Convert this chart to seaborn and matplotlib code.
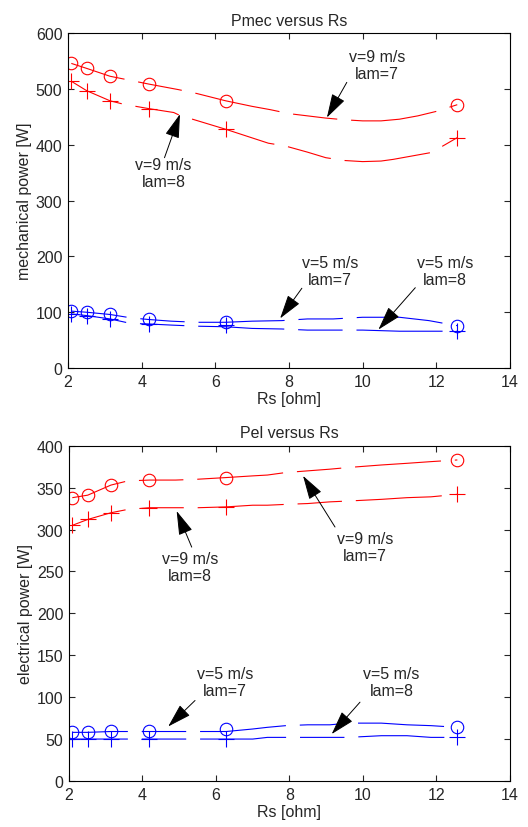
import numpy as np
import pandas as pd
import seaborn as sns
import matplotlib.pyplot as plt

# marker positions (Rs values)
rs = [2.09, 2.51, 3.14, 4.19, 6.28, 12.57]

# mechanical power at the markers
pmec_v9_l7 = [546, 537, 523, 509, 479, 472]
pmec_v9_l8 = [514, 497, 479, 465, 428, 413]
pmec_v5_l7 = [102, 100, 96, 87, 82, 76]
pmec_v5_l8 = [97, 93, 88, 79, 77, 66]

# electrical power at the markers
pel_v9_l7 = [338, 341, 353, 359, 362, 383]
pel_v9_l8 = [305, 312, 320, 326, 327, 342]
pel_v5_l7 = [58, 58, 60, 60, 62, 64]
pel_v5_l8 = [50, 50, 50, 50, 50, 52]

# curves
cx_a = [2.09, 2.51, 3.14, 4.19, 5.0, 5.5, 6.28, 7.0, 7.5, 8.0, 8.5, 9.0, 9.5, 10.0, 10.5, 11.0, 11.5, 12.0, 12.57]
pmec_v9_l7_c = [546, 537, 523, 509, 499, 492, 479, 469, 463, 456, 452, 448, 445, 443, 443, 446, 452, 460, 472]

cx_b = [2.09, 2.51, 3.14, 3.5, 4.19, 4.87, 5.03, 6.28, 7.44, 7.9, 8.5, 9.0, 9.5, 10.0, 10.5, 10.83, 11.84, 12.1, 12.57]
pmec_v9_l8_c = [514, 497, 479, 473, 465, 458, 453, 428, 403, 398, 387, 377, 372, 370, 371, 374, 386, 395, 413]

cx_c = [2.09, 2.51, 3.14, 3.7, 4.19, 4.8, 5.5, 6.28, 7.0, 7.8, 8.5, 9.2, 10.0, 11.0, 11.8, 12.3, 12.57]
pmec_v5_l7_c = [102, 100, 96, 90, 87, 84, 82, 82, 84, 85, 88, 88, 91, 91, 85, 79, 76]
pmec_v5_l8_c = [97, 94, 88, 80, 79, 77, 75, 74, 71, 70, 68, 68, 68, 66, 66, 66, 66]

cx_d = [2.09, 2.51, 3.14, 3.6, 4.19, 4.9, 5.5, 6.28, 7.0, 7.4, 7.9, 8.5, 9.1, 9.6, 10.5, 11.2, 11.85, 12.57]
pel_v9_l7_c = [338, 341, 353, 358, 359, 359, 360, 362, 364, 365, 368, 370, 372, 374, 377, 379, 381, 383]
pel_v9_l8_c = [305, 312, 320, 324, 326, 326, 326, 327, 329, 329, 330, 331, 333, 334, 336, 338, 339, 342]
pel_v5_l7_c = [58, 58, 59, 59, 59, 59, 59, 59, 62, 64, 66, 67, 67, 69, 69, 67, 66, 64]
pel_v5_l8_c = [50, 50, 50, 50, 50, 50, 50, 50, 50, 52, 52, 52, 52, 52, 54, 54, 52, 52]

sns.set_style('ticks')
plt.rcParams['font.family'] = ['Liberation Sans', 'DejaVu Sans']
plt.rcParams['lines.scale_dashes'] = False

fs = 11.5
dash = (22, (62, 10, 32, 10))

fig = plt.figure(figsize=(5.28, 8.28), dpi=100)
ax1 = fig.add_axes([0.1288, 0.5543, 0.837, 0.4043])
ax2 = fig.add_axes([0.1307, 0.0556, 0.835, 0.4049])


def draw(ax, cx, cy, mx, my, color, marker, ms):
    sns.lineplot(x=cx, y=cy, ax=ax, color=color, lw=0.8, linestyle=dash,
                 sort=False, estimator=None)
    ax.plot(mx, my, linestyle='none', marker=marker, markersize=ms,
            markerfacecolor='none', markeredgecolor=color, markeredgewidth=0.8)


def note(ax, text, txy, axy, hxy):
    ax.text(txy[0], txy[1], text, ha='center', va='center', fontsize=fs,
            linespacing=1.2)
    ax.annotate('', xy=hxy, xytext=axy,
                arrowprops=dict(arrowstyle='-|>,head_length=1.0,head_width=0.3',
                                color='k', lw=0.7, mutation_scale=15,
                                shrinkA=0, shrinkB=0))


draw(ax1, cx_a, pmec_v9_l7_c, rs, pmec_v9_l7, 'red', 'o', 9)
draw(ax1, cx_b, pmec_v9_l8_c, rs, pmec_v9_l8, 'red', '+', 11)
draw(ax1, cx_c, pmec_v5_l7_c, rs, pmec_v5_l7, 'blue', 'o', 9)
draw(ax1, cx_c, pmec_v5_l8_c, rs, pmec_v5_l8, 'blue', '+', 11)

draw(ax2, cx_d, pel_v9_l7_c, rs, pel_v9_l7, 'red', 'o', 9)
draw(ax2, cx_d, pel_v9_l8_c, rs, pel_v9_l8, 'red', '+', 11)
draw(ax2, cx_d, pel_v5_l7_c, rs, pel_v5_l7, 'blue', 'o', 9)
draw(ax2, cx_d, pel_v5_l8_c, rs, pel_v5_l8, 'blue', '+', 11)

note(ax1, 'v=9 m/s\nlam=7', (10.39, 543), (9.57, 512), (9.03, 449))
note(ax1, 'v=9 m/s\nlam=8', (4.59, 350), (4.62, 377), (5.04, 455))
note(ax1, 'v=5 m/s\nlam=7', (9.12, 174), (8.35, 143), (7.76, 89))
note(ax1, 'v=5 m/s\nlam=8', (12.24, 174), (11.43, 144), (10.43, 69))

note(ax2, 'v=9 m/s\nlam=8', (5.29, 255), (5.34, 279), (4.93, 322))
note(ax2, 'v=9 m/s\nlam=7', (10.05, 279), (9.24, 303), (8.37, 364))
note(ax2, 'v=5 m/s\nlam=7', (6.24, 118), (5.43, 96), (4.70, 65))
note(ax2, 'v=5 m/s\nlam=8', (10.78, 118), (9.92, 94), (9.15, 56))

for ax, ymax, ystep, title, ylabel in [
        (ax1, 600, 100, 'Pmec versus Rs', 'mechanical power [W]'),
        (ax2, 400, 50, 'Pel versus Rs', 'electrical power [W]')]:
    ax.set_xlim(2, 14)
    ax.set_ylim(0, ymax)
    ax.set_xticks(np.arange(2, 15, 2))
    ax.set_yticks(np.arange(0, ymax + 1, ystep))
    ax.tick_params(direction='in', top=True, right=True, length=4,
                   width=0.8, labelsize=fs, pad=4)
    for s in ax.spines.values():
        s.set_visible(True)
        s.set_linewidth(0.8)
        s.set_color('black')
    ax.set_title(title, fontsize=fs, pad=6)
    ax.set_xlabel('Rs [ohm]', fontsize=fs, labelpad=2)
    ax.set_ylabel(ylabel, fontsize=fs, labelpad=3)

fig.savefig('out.png', dpi=100, facecolor='white')
